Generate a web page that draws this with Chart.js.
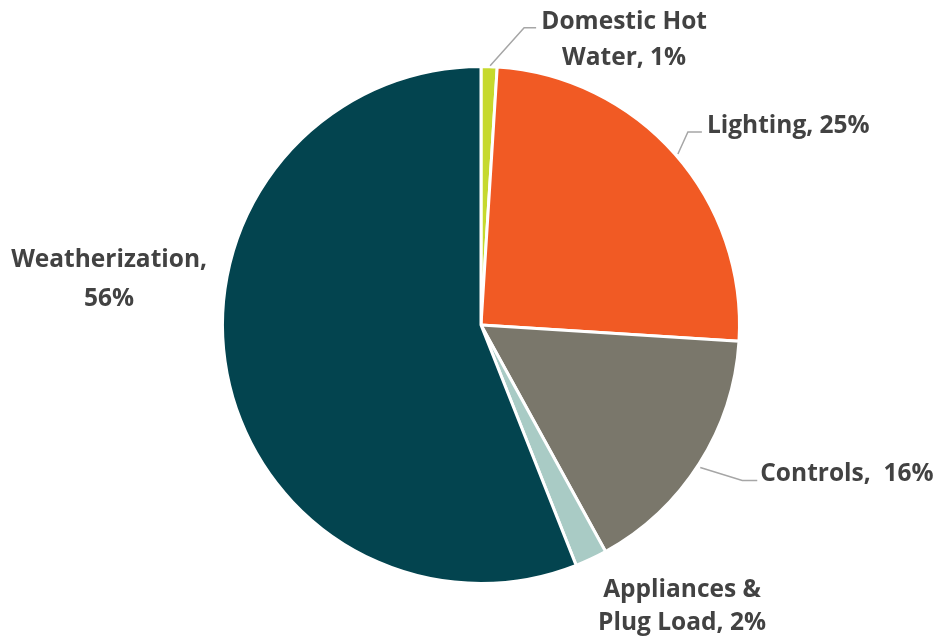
<!DOCTYPE html>
<html>
<head>
<meta charset="utf-8">
<script src="https://cdn.jsdelivr.net/npm/chart.js@4/dist/chart.umd.min.js"></script>
<style>
  html, body { margin: 0; padding: 0; background: #fff; }
  #wrap { width: 935px; height: 637px; position: relative; }
</style>
</head>
<body>
<div id="wrap"><canvas id="pie"></canvas></div>
<script>
// end-use categories and their share of savings (%)
const categories = ['Domestic Hot Water', 'Lighting', 'Controls', 'Appliances & Plug Load', 'Weatherization'];
const shares = [1, 25, 16, 2, 56];
const sliceColors = ['#c6d92e', '#f15a24', '#7a776b', '#a9cbc5', '#03444f'];

// how each label is split into lines
const labelLines = [
  ['Domestic Hot', 'Water, 1%'],
  ['Lighting, 25%'],
  ['Controls,  16%'],
  ['Appliances &', 'Plug Load, 2%'],
  ['Weatherization,', '56%']
];

// placement relative to the slice's outer edge at its mid angle
const labelPlacement = [
  { dx: 135, dy: -38, align: 'center', lh: 36, leader: [[1, -1], [35, -39], [47, -39]] },
  { dx: 32, dy: -21, align: 'left', lh: 36, leader: [[3, 0], [13, -22], [27, -22]] },
  { dx: 61, dy: 17, align: 'left', lh: 36, leader: [[1, 4], [43, 17], [58, 17]] },
  { dx: 91, dy: 38, align: 'center', lh: 33, leader: null },
  { dx: -118, dy: -106, align: 'center', lh: 39, leader: null }
];

const outsideLabels = {
  id: 'outsideLabels',
  afterDatasetsDraw(chart) {
    const ctx = chart.ctx;
    const arcs = chart.getDatasetMeta(0).data;
    ctx.save();
    arcs.forEach((arc, i) => {
      const p = arc.getProps(['x', 'y', 'startAngle', 'endAngle', 'outerRadius'], true);
      const mid = (p.startAngle + p.endAngle) / 2;
      const ex = p.x + Math.cos(mid) * p.outerRadius;
      const ey = p.y + Math.sin(mid) * p.outerRadius;
      const cfg = labelPlacement[i];
      if (cfg.leader) {
        ctx.strokeStyle = '#a6a6a6';
        ctx.lineWidth = 1.5;
        ctx.beginPath();
        cfg.leader.forEach((pt, k) => {
          if (k === 0) ctx.moveTo(ex + pt[0], ey + pt[1]);
          else ctx.lineTo(ex + pt[0], ey + pt[1]);
        });
        ctx.stroke();
      }
      ctx.fillStyle = '#424242';
      ctx.font = 'bold 24.5px "Open Sans"';
      ctx.textAlign = cfg.align;
      ctx.textBaseline = 'alphabetic';
      labelLines[i].forEach((line, k) => {
        ctx.fillText(line, ex + cfg.dx, ey + cfg.dy + k * cfg.lh);
      });
    });
    ctx.restore();
  }
};

new Chart(document.getElementById('pie'), {
  type: 'pie',
  data: {
    labels: categories,
    datasets: [{
      data: shares,
      backgroundColor: sliceColors,
      borderColor: '#ffffff',
      borderWidth: 3
    }]
  },
  options: {
    responsive: true,
    maintainAspectRatio: false,
    animation: false,
    layout: { padding: { top: 65, bottom: 52, left: 221, right: 194 } },
    plugins: {
      legend: { display: false },
      tooltip: { enabled: false }
    }
  },
  plugins: [outsideLabels]
});
</script>
</body>
</html>
